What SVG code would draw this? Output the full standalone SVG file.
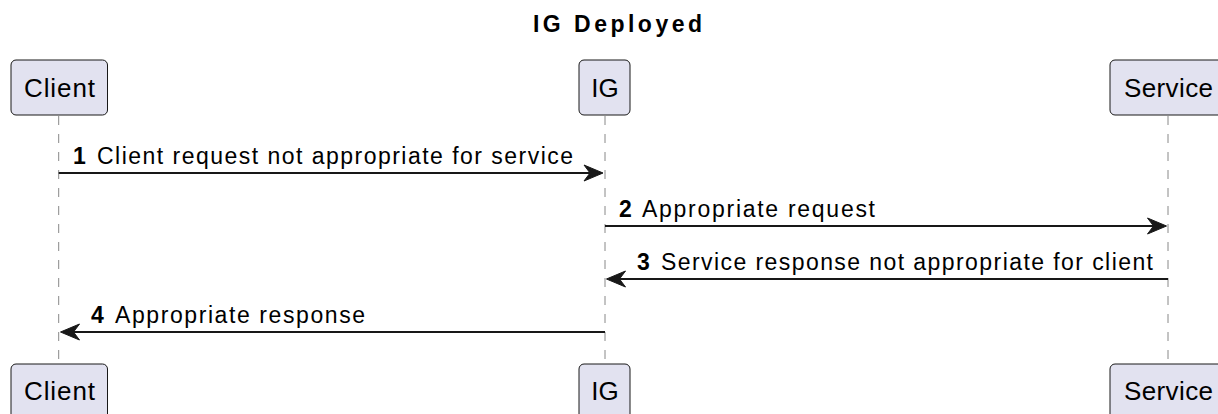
<svg xmlns="http://www.w3.org/2000/svg" width="1218" height="414" viewBox="0 0 1218 414">
<defs>
<style>
.box{fill:#E2E2F0;stroke:#181818;stroke-width:1}
.pt{font-family:"Liberation Sans",Arial,sans-serif;font-size:26px;fill:#000;text-anchor:middle}
.life{stroke:#888;stroke-width:1;stroke-dasharray:9,9;fill:none}
.msg{stroke:#181818;stroke-width:2;fill:none}
.head{fill:#181818;stroke:#181818;stroke-width:1}
.lbl{font-family:"Liberation Sans",Arial,sans-serif;font-size:23px;fill:#000}
.num{font-family:"Liberation Sans",Arial,sans-serif;font-size:23px;font-weight:bold;fill:#000}
.title{font-family:"Liberation Sans",Arial,sans-serif;font-size:23px;font-weight:bold;fill:#000;text-anchor:middle}
</style>
</defs>
<rect width="1218" height="414" fill="#FFFFFF"/>
<text class="title" x="617.5" y="32" textLength="169" lengthAdjust="spacing">IG Deployed</text>
<g id="lifelines">
<line class="life" x1="58.7" y1="116" x2="58.7" y2="364"/>
<line class="life" x1="605" y1="116" x2="605" y2="364"/>
<line class="life" x1="1168" y1="116" x2="1168" y2="364"/>
</g>
<g id="client">
<rect class="box" x="11" y="60" width="96.5" height="55" rx="5"/>
<text class="pt" x="59.5" y="97" textLength="71" lengthAdjust="spacing">Client</text>
</g>
<g id="ig">
<rect class="box" x="579" y="60" width="51" height="55" rx="5"/>
<text class="pt" x="605" y="97">IG</text>
</g>
<g id="service">
<rect class="box" x="1110" y="60" width="117" height="55" rx="5"/>
<text class="pt" x="1168.5" y="97" textLength="89" lengthAdjust="spacing">Service</text>
</g>
<g id="client-bottom">
<rect class="box" x="11" y="364" width="96.5" height="55" rx="5"/>
<text class="pt" x="59.5" y="400" textLength="71" lengthAdjust="spacing">Client</text>
</g>
<g id="ig-bottom">
<rect class="box" x="579" y="364" width="51" height="55" rx="5"/>
<text class="pt" x="605" y="400">IG</text>
</g>
<g id="service-bottom">
<rect class="box" x="1110" y="364" width="117" height="55" rx="5"/>
<text class="pt" x="1168.5" y="400" textLength="89" lengthAdjust="spacing">Service</text>
</g>
<g id="connectors">
<line class="msg" x1="58.7" y1="173" x2="598" y2="173"/>
<polygon class="head" points="603,173 584,165 590,173 584,181"/>
<text class="num" x="73" y="164">1</text>
<text class="lbl" x="97" y="164" textLength="476" lengthAdjust="spacing">Client request not appropriate for service</text>

<line class="msg" x1="605" y1="226" x2="1161" y2="226"/>
<polygon class="head" points="1166.5,226 1147.5,218 1153.5,226 1147.5,234"/>
<text class="num" x="619" y="217">2</text>
<text class="lbl" x="642" y="217" textLength="233" lengthAdjust="spacing">Appropriate request</text>

<line class="msg" x1="1168" y1="279" x2="612" y2="279"/>
<polygon class="head" points="606.5,279 625.5,271 619.5,279 625.5,287"/>
<text class="num" x="637" y="270">3</text>
<text class="lbl" x="661" y="270" textLength="492" lengthAdjust="spacing">Service response not appropriate for client</text>

<line class="msg" x1="605" y1="332" x2="66" y2="332"/>
<polygon class="head" points="60.5,332 79.5,324 73.5,332 79.5,340"/>
<text class="num" x="91" y="323">4</text>
<text class="lbl" x="115" y="323" textLength="250" lengthAdjust="spacing">Appropriate response</text>
</g>
</svg>
